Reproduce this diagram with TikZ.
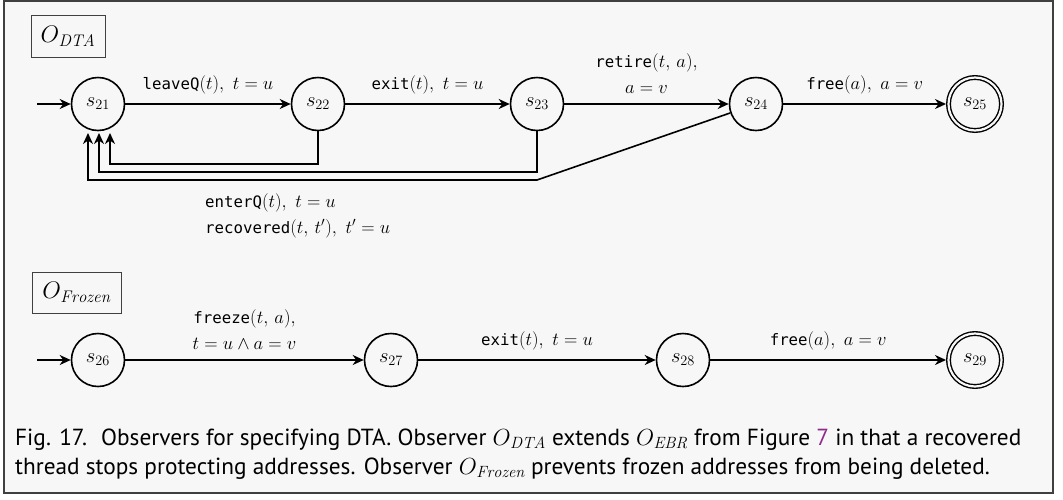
\RequirePackage{fix-cm}
\documentclass[tikz,border=0pt]{standalone}
\usepackage{fontspec}
\setsansfont{PT Sans}
\setmonofont{DejaVu Sans Mono}[Scale=0.85]
\usetikzlibrary{arrows.meta}
\definecolor{bgc}{HTML}{F7F7F7}
\definecolor{framec}{HTML}{404040}
\definecolor{linkc}{HTML}{8E2A8E}
\begin{document}
\begin{tikzpicture}[x=1pt,y=-1pt,
  state/.style={circle,draw,line width=1.6pt,minimum size=53pt,inner sep=0pt,fill=bgc,font=\fontsize{20.5}{22}\selectfont},
  accept/.style={state,double=bgc,double distance=2.2pt,line width=1.4pt,outer sep=2.5pt},
  tr/.style={draw,line width=1.6pt,-{Stealth[length=11pt,width=10pt,inset=3.5pt]}},
  lab/.style={font=\fontsize{18.5}{26}\selectfont,align=center,inner sep=0pt},
  titlebox/.style={draw=framec,line width=0.8pt,inner sep=0pt,font=\fontsize{24}{26}\selectfont},
  captext/.style={anchor=base west,inner sep=0pt,font=\sffamily\fontsize{23.3}{29}\selectfont}
]
\useasboundingbox (0,0) rectangle (1063,499);
\fill[white] (0,0) rectangle (1063,499);
\draw[framec,line width=2pt,fill=bgc] (4,1) rectangle (1053,493);

% ---- O_DTA ----
\node[titlebox,minimum width=74pt,minimum height=42pt] (t1) at (68,36) {$O_{\mathit{DTA}}$};
\node[state] (s21) at (98,104) {$s_{21}$};
\node[state] (s22) at (318,104) {$s_{22}$};
\node[state] (s23) at (537,104) {$s_{23}$};
\node[state] (s24) at (756,104) {$s_{24}$};
\node[accept] (s25) at (975,104) {$s_{25}$};
\coordinate (i1) at (37,104);
\draw[tr] (i1) -- (s21);
\draw[tr] (s21) -- node[lab,above=9pt] {\texttt{leaveQ}$(t),\ t = u$} (s22);
\draw[tr] (s22) -- node[lab,above=9pt] {\texttt{exit}$(t),\ t = u$} (s23);
\draw[tr] (s23) -- node[lab,above=10pt] {\texttt{retire}$(t,\,a),$\\$a = v$} (s24);
\draw[tr] (s24) -- node[lab,above=9pt] {\texttt{free}$(a),\ a = v$} (s25);

\coordinate (b1) at (110,133);
\coordinate (b2) at (99,133);
\coordinate (b3) at (88,133);
\coordinate (k3) at (537,180);
\draw[tr] (s22.south) |- (110,164) -- (b1);
\draw[tr] (s23.south) |- (99,172) -- (b2);
\draw[tr] (s24) -- (k3) -- (88,180) -- (b3);
\node[lab,align=left,anchor=north west] (bl) at (205,193)
  {\texttt{enterQ}$(t),\ t = u$\\\texttt{recovered}$(t,\,t'),\ t' = u$};

% ---- O_Frozen ----
\node[titlebox,minimum width=89pt,minimum height=41pt] (t2) at (76.5,292.5) {$O_{\mathit{Frozen}}$};
\node[state] (s26) at (98,360) {$s_{26}$};
\node[state] (s27) at (391,360) {$s_{27}$};
\node[state] (s28) at (683,360) {$s_{28}$};
\node[accept] (s29) at (975,360) {$s_{29}$};
\coordinate (i2) at (37,360);
\draw[tr] (i2) -- (s26);
\draw[tr] (s26) -- node[lab,above=10pt] {\texttt{freeze}$(t,\,a),$\\$t = u \wedge a = v$} (s27);
\draw[tr] (s27) -- node[lab,above=9pt] {\texttt{exit}$(t),\ t = u$} (s28);
\draw[tr] (s28) -- node[lab,above=9pt] {\texttt{free}$(a),\ a = v$} (s29);

% ---- caption ----
\node[captext] (c1) at (15,445) {Fig. 17.\hspace{0.25em} Observers for specifying DTA. Observer $O_{\mathit{DTA}}$ extends $O_{\mathit{EBR}}$ from Figure {\color{linkc}7} in that a recovered};
\node[captext] (c2) at (15,474) {thread stops protecting addresses. Observer $O_{\mathit{Frozen}}$ prevents frozen addresses from being deleted.};
\end{tikzpicture}
\end{document}
